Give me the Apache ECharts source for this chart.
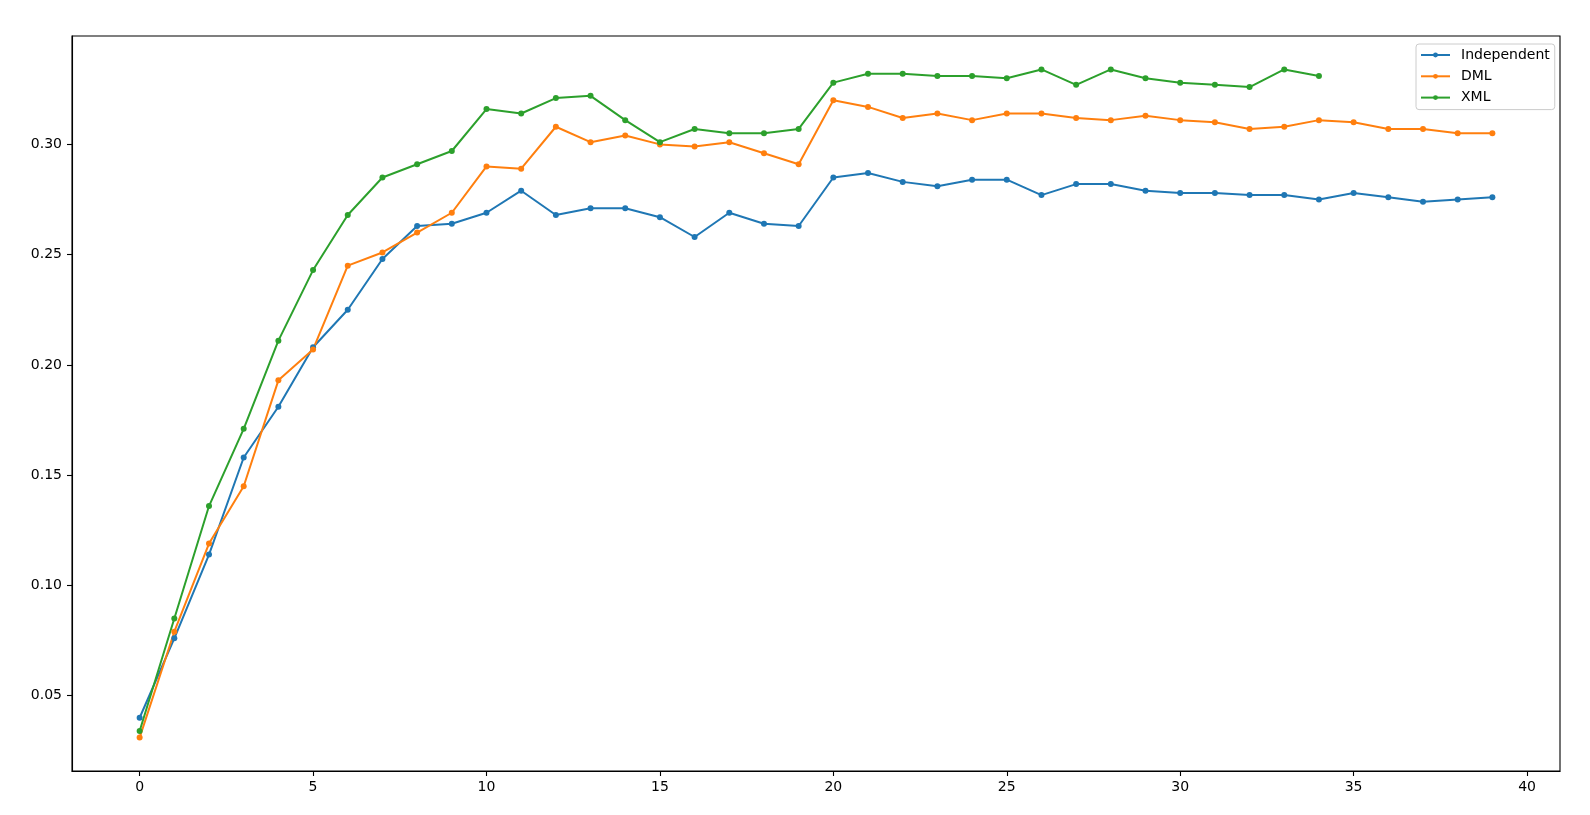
<!DOCTYPE html>
<html>
<head>
<meta charset="utf-8">
<script src="https://cdn.jsdelivr.net/npm/echarts@6/dist/echarts.min.js"></script>
<style>
html,body{margin:0;padding:0;background:#fff;}
#chart{width:1590px;height:815px;}
</style>
</head>
<body>
<div id="chart"></div>
<script>
const epochs = [0,1,2,3,4,5,6,7,8,9,10,11,12,13,14,15,16,17,18,19,20,21,22,23,24,25,26,27,28,29,30,31,32,33,34,35,36,37,38,39];
const independent = [0.040,0.076,0.114,0.158,0.181,0.208,0.225,0.248,0.263,0.264,0.269,0.279,0.268,0.271,0.271,0.267,0.258,0.269,0.264,0.263,0.285,0.287,0.283,0.281,0.284,0.284,0.277,0.282,0.282,0.279,0.278,0.278,0.277,0.277,0.275,0.278,0.276,0.274,0.275,0.276];
const dml = [0.031,0.079,0.119,0.145,0.193,0.207,0.245,0.251,0.260,0.269,0.290,0.289,0.308,0.301,0.304,0.300,0.299,0.301,0.296,0.291,0.320,0.317,0.312,0.314,0.311,0.314,0.314,0.312,0.311,0.313,0.311,0.310,0.307,0.308,0.311,0.310,0.307,0.307,0.305,0.305];
const xml = [0.034,0.085,0.136,0.171,0.211,0.243,0.268,0.285,0.291,0.297,0.316,0.314,0.321,0.322,0.311,0.301,0.307,0.305,0.305,0.307,0.328,0.332,0.332,0.331,0.331,0.330,0.334,0.327,0.334,0.330,0.328,0.327,0.326,0.334,0.331];
const seriesNames = ['Independent','DML','XML'];
const xTicks = [0,5,10,15,20,25,30,35,40];
const yTicks = [0.05,0.10,0.15,0.20,0.25,0.30];

const colors = ['#1f77b4','#ff7f0e','#2ca02c'];
const allSeries = [independent, dml, xml];

// matplotlib-style 5% margins
const allVals = allSeries.flat();
const yMinD = Math.min(...allVals), yMaxD = Math.max(...allVals);
const yPad = (yMaxD - yMinD) * 0.05;
const xMinD = epochs[0], xMaxD = epochs[epochs.length - 1];
const xPad = (xMaxD - xMinD) * 0.05;

const font = 'DejaVu Sans';
const chart = echarts.init(document.getElementById('chart'), null, {renderer: 'canvas'});
chart.setOption({
  animation: false,
  backgroundColor: '#ffffff',
  textStyle: {fontFamily: font},
  grid: {left: 72, top: 36, right: 30, bottom: 44, show: true, borderColor: '#000', borderWidth: 1.1, containLabel: false},
  legend: {
    orient: 'vertical',
    left: 1416, top: 44,
    padding: [4, 5, 5, 4],
    itemWidth: 29, itemHeight: 6, itemGap: 7.3,
    backgroundColor: 'rgba(255,255,255,0.8)',
    borderColor: '#cccccc', borderWidth: 1, borderRadius: 3,
    textStyle: {fontFamily: font, fontSize: 14, color: '#000', padding: [0,0,0,6]},
    data: seriesNames
  },
  xAxis: {
    type: 'value',
    min: xMinD - xPad, max: xMaxD + xPad,
    splitLine: {show: false},
    axisLine: {show: true, onZero: false, lineStyle: {color: '#000', width: 1.1}},
    axisTick: {show: true, length: 5, lineStyle: {color: '#000', width: 1.1}, customValues: xTicks},
    axisLabel: {fontFamily: font, fontSize: 14, color: '#000', margin: 9, customValues: xTicks, formatter: v => String(v)}
  },
  yAxis: {
    type: 'value',
    min: yMinD - yPad, max: yMaxD + yPad,
    splitLine: {show: false},
    axisLine: {show: true, onZero: false, lineStyle: {color: '#000', width: 1.1}},
    axisTick: {show: true, length: 5, lineStyle: {color: '#000', width: 1.1}, customValues: yTicks},
    axisLabel: {fontFamily: font, fontSize: 14, color: '#000', margin: 10, customValues: yTicks, formatter: v => v.toFixed(2)}
  },
  series: allSeries.map((vals, s) => ({
    name: seriesNames[s],
    type: 'line',
    data: vals.map((v, i) => [epochs[i], v]),
    symbol: 'circle',
    symbolSize: 6,
    showSymbol: true,
    lineStyle: {color: colors[s], width: 2},
    itemStyle: {color: colors[s], borderWidth: 0},
    color: colors[s],
    emphasis: {disabled: true}
  }))
});
</script>
</body>
</html>
